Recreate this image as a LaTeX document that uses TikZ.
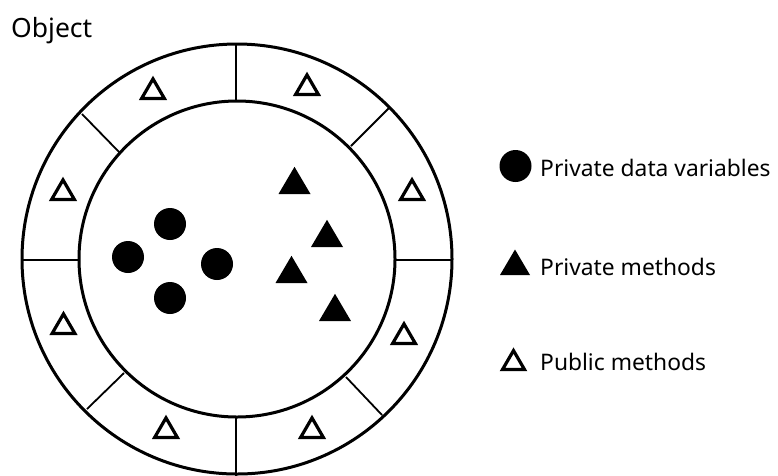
\documentclass[tikz,border=0pt]{standalone}
\usepackage{fontspec}
\setmainfont{Noto Sans}
\tikzset{
  ring/.style={line width=3pt},
  divider/.style={line width=1.8pt},
  opentri/.style={line width=3.2pt, line join=miter},
  filltri/.style={fill=black},
  dot/.style={circle, fill=black, inner sep=0pt, minimum size=32pt},
  legendtext/.style={anchor=base west, inner sep=0pt, font=\fontsize{22.8}{26}\selectfont},
  titletext/.style={anchor=base west, inner sep=0pt, font=\fontsize{26.5}{30}\selectfont}
}
\newcommand\otri[3]{\draw[opentri] ({#1-#3},{#2-1.5}) -- (#1,{#2-1.5-1.72*#3}) -- ({#1+#3},{#2-1.5}) -- cycle;}
\newcommand\ftri[3]{\fill[filltri] ({#1-#3},#2) -- (#1,{#2-1.7*#3}) -- ({#1+#3},#2) -- cycle;}
\begin{document}
\begin{tikzpicture}[x=1pt,y=-1pt]
\useasboundingbox (0,0) rectangle (778,475);
\fill[white] (0,0) rectangle (778,475);
% circles
\draw[ring] (237,259) circle (215);
\draw[ring] (237,259) circle (158);
% dividers
\draw[divider] (236,43) -- (236,101);
\draw[divider] (236,417) -- (236,476);
\draw[divider] (22,260) -- (80,260);
\draw[divider] (395,260) -- (453,260);
\draw[divider] (82,114) -- (120,153);
\draw[divider] (390,107) -- (351,146);
\draw[divider] (87,409) -- (124,373);
\draw[divider] (346,377) -- (382,415);
% public methods (ring)
\otri{153}{100}{11.4}
\otri{307}{96}{11.4}
\otri{63}{201}{11.4}
\otri{412}{201}{11.4}
\otri{63.5}{335}{11.4}
\otri{404}{345}{11.4}
\otri{166}{439}{11.4}
\otri{312}{439}{11.4}
% private data
\node[dot] (d1) at (170,224) {};
\node[dot] (d2) at (128,257) {};
\node[dot] (d3) at (217,264) {};
\node[dot] (d4) at (170,298) {};
% private methods
\ftri{294.5}{194}{16}
\ftri{327}{247}{16}
\ftri{291.5}{283}{16}
\ftri{335}{321}{16}
% title
\node[titletext] (title) at (11,37) {Object};
% legend
\node[dot] (ld) at (515.5,166) {};
\ftri{515}{275}{15}
\otri{513.5}{371}{11}
\node[legendtext] (l1) at (540,176) {Private data variables};
\node[legendtext] (l2) at (540,275) {Private methods};
\node[legendtext] (l3) at (540,370) {Public methods};
\end{tikzpicture}
\end{document}
